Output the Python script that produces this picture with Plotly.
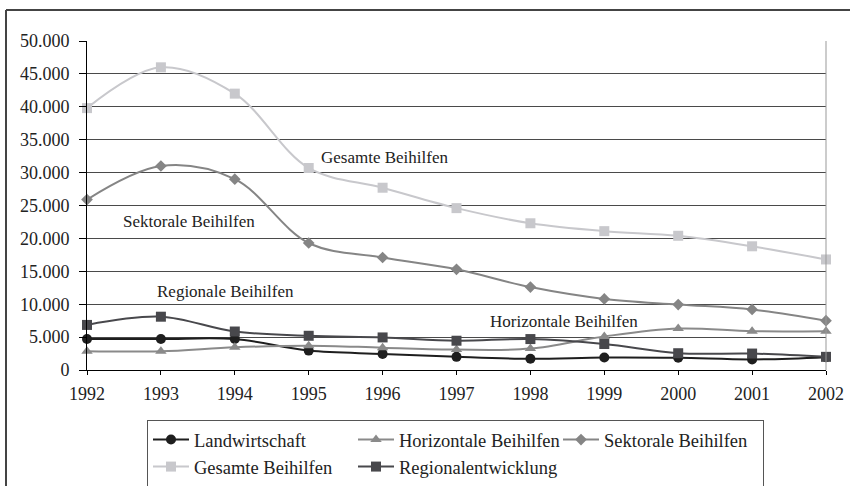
import plotly.graph_objects as go

years = [1992, 1993, 1994, 1995, 1996, 1997, 1998, 1999, 2000, 2001, 2002]
landwirtschaft = [4700, 4700, 4700, 2950, 2450, 2000, 1700, 1900, 1850, 1600, 1950]
horizontale = [2850, 2850, 3450, 3700, 3400, 3100, 3250, 5100, 6300, 5900, 5900]
sektorale = [25900, 31000, 29000, 19300, 17100, 15300, 12600, 10800, 9950, 9200, 7500]
gesamte = [39800, 46000, 42000, 30700, 27700, 24600, 22300, 21100, 20400, 18800, 16800]
regional = [6850, 8100, 5850, 5200, 4950, 4450, 4700, 3950, 2550, 2500, 2000]

series = [
    ("Landwirtschaft", landwirtschaft, "#1e1e1e", "circle", 10),
    ("Horizontale Beihilfen", horizontale, "#8a8a8a", "triangle-up", 10),
    ("Sektorale Beihilfen", sektorale, "#858585", "diamond", 9),
    ("Gesamte Beihilfen", gesamte, "#c8c8cc", "square", 10),
    ("Regionalentwicklung", regional, "#48484c", "square", 10),
]

labels = [
    ("Gesamte Beihilfen", 1996.03, 32300),
    ("Sektorale Beihilfen", 1993.38, 22570),
    ("Regionale Beihilfen", 1993.87, 11930),
    ("Horizontale Beihilfen", 1998.46, 7370),
]

FONT = "Liberation Serif"

fig = go.Figure()
for name, vals, col, sym, sz in series:
    fig.add_trace(go.Scatter(
        x=years, y=vals, name=name, mode="lines+markers",
        line=dict(color=col, width=2, shape="spline", smoothing=1),
        marker=dict(symbol=sym, size=sz, color=col),
        cliponaxis=False,
    ))

for txt, xv, yv in labels:
    fig.add_annotation(x=xv, y=yv, text=txt, showarrow=False,
                       font=dict(family=FONT, size=17, color="#222"))

# outer chart border (only left and top visible, the rest is cropped)
bx0 = (6 - 87) / 739
by1 = (370 - 10) / 329
fig.add_shape(type="line", xref="paper", yref="paper",
              x0=bx0, x1=bx0, y0=(370 - 520) / 329, y1=by1,
              line=dict(color="#444", width=2), layer="below")
fig.add_shape(type="line", xref="paper", yref="paper",
              x0=bx0, x1=(880 - 87) / 739, y0=by1, y1=by1,
              line=dict(color="#444", width=2), layer="below")
# right plot-area edge
fig.add_shape(type="line", xref="paper", yref="paper", x0=1, x1=1, y0=0, y1=1,
              line=dict(color="#999", width=1))

fig.update_layout(
    width=850, height=486,
    margin=dict(l=87, r=24, t=41, b=116, autoexpand=False),
    paper_bgcolor="white", plot_bgcolor="white",
    separators=",.",
    font=dict(family=FONT, size=18, color="#222"),
    showlegend=True,
    legend=dict(
        orientation="h", x=(147 - 87) / 739, xanchor="left",
        y=(370 - 420) / 329, yanchor="top",
        bordercolor="#555", borderwidth=1, bgcolor="white",
        itemwidth=36, entrywidth=154, entrywidthmode="pixels",
        font=dict(family=FONT, size=18.5, color="#222"),
        traceorder="normal",
    ),
    xaxis=dict(
        range=[1992, 2002], tickmode="array", tickvals=years,
        showgrid=False, zeroline=False,
        showline=True, linecolor="black", linewidth=1,
        ticks="outside", ticklen=4, tickcolor="black",
        ticklabelstandoff=3,
    ),
    yaxis=dict(
        range=[0, 50000], dtick=5000, tickformat=",d",
        showgrid=True, gridcolor="#4a4a4a", gridwidth=1, zeroline=False,
        showline=True, linecolor="black", linewidth=1,
        ticks="outside", ticklen=7, tickcolor="black",
        ticklabelstandoff=6,
    ),
)

fig.write_html("out.html", config={"displayModeBar": False},
               post_script="document.body.style.margin='0';")
